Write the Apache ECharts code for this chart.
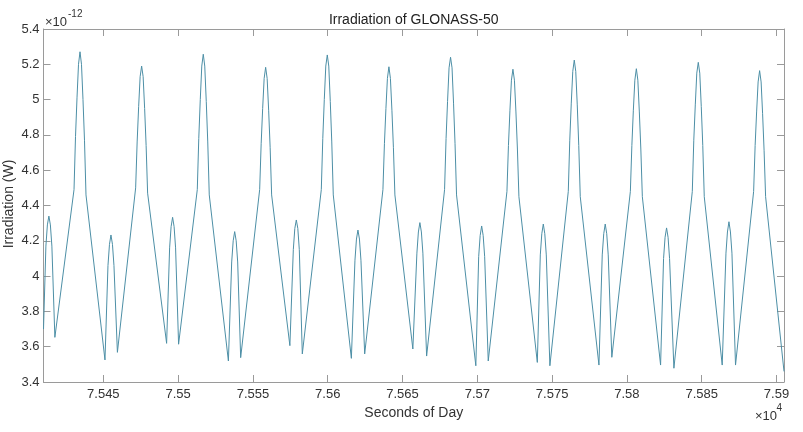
<!DOCTYPE html>
<html>
<head>
<meta charset="utf-8">
<script src="https://cdn.jsdelivr.net/npm/echarts@6.0.0/dist/echarts.min.js"></script>
<style>
html,body{margin:0;padding:0;background:#fff;}
#chart{width:803px;height:432px;}
</style>
</head>
<body>
<div id="chart"></div>
<script>
// Time in seconds of day
const seconds = [
  75410.0,
  75411.6, 75412.6, 75413.6, 75414.6, 75415.6,
  75417.6,
  75430.4, 75431.4, 75432.4, 75433.4, 75434.4, 75435.4, 75436.4, 75437.4, 75438.4,
  75451.1,
  75453.1, 75454.1, 75455.1, 75456.1, 75457.1,
  75459.4,
  75471.6, 75472.6, 75473.6, 75474.6, 75475.6, 75476.6, 75477.6, 75478.6, 75479.6,
  75492.3,
  75494.3, 75495.3, 75496.3, 75497.3, 75498.3,
  75500.3,
  75512.8, 75513.8, 75514.8, 75515.8, 75516.8, 75517.8, 75518.8, 75519.8, 75520.8,
  75533.6,
  75535.8, 75536.8, 75537.8, 75538.8, 75539.8,
  75541.8,
  75554.5, 75555.5, 75556.5, 75557.5, 75558.5, 75559.5, 75560.5, 75561.5, 75562.5,
  75574.7,
  75577.0, 75578.0, 75579.0, 75580.0, 75581.0,
  75583.0,
  75595.7, 75596.7, 75597.7, 75598.7, 75599.7, 75600.7, 75601.7, 75602.7, 75603.7,
  75615.8,
  75618.2, 75619.2, 75620.2, 75621.2, 75622.2,
  75624.7,
  75636.9, 75637.9, 75638.9, 75639.9, 75640.9, 75641.9, 75642.9, 75643.9, 75644.9,
  75656.9,
  75659.6, 75660.6, 75661.6, 75662.6, 75663.6,
  75666.1,
  75678.1, 75679.1, 75680.1, 75681.1, 75682.1, 75683.1, 75684.1, 75685.1, 75686.1,
  75699.0,
  75700.9, 75701.9, 75702.9, 75703.9, 75704.9,
  75707.3,
  75719.8, 75720.8, 75721.8, 75722.8, 75723.8, 75724.8, 75725.8, 75726.8, 75727.8,
  75740.1,
  75742.1, 75743.1, 75744.1, 75745.1, 75746.1,
  75748.5,
  75760.8, 75761.8, 75762.8, 75763.8, 75764.8, 75765.8, 75766.8, 75767.8, 75768.8,
  75781.3,
  75783.5, 75784.5, 75785.5, 75786.5, 75787.5,
  75789.9,
  75802.3, 75803.3, 75804.3, 75805.3, 75806.3, 75807.3, 75808.3, 75809.3, 75810.3,
  75822.5,
  75824.5, 75825.5, 75826.5, 75827.5, 75828.5,
  75831.4,
  75843.7, 75844.7, 75845.7, 75846.7, 75847.7, 75848.7, 75849.7, 75850.7, 75851.7,
  75863.7,
  75866.2, 75867.2, 75868.2, 75869.2, 75870.2,
  75872.6,
  75884.7, 75885.7, 75886.7, 75887.7, 75888.7, 75889.7, 75890.7, 75891.7, 75892.7,
  75905.0
];

// Irradiation in units of 1e-12 W
const irradiation = [
  3.70,
  4.17, 4.29, 4.34, 4.29, 4.17,
  3.653,
  4.49, 4.79, 5.01, 5.20, 5.271, 5.20, 5.00, 4.77, 4.46,
  3.525,
  4.06, 4.18, 4.233, 4.18, 4.06,
  3.568,
  4.50, 4.76, 4.96, 5.13, 5.19, 5.13, 4.95, 4.74, 4.47,
  3.619,
  4.16, 4.28, 4.333, 4.28, 4.16,
  3.614,
  4.49, 4.78, 5.00, 5.19, 5.257, 5.19, 4.99, 4.76, 4.46,
  3.519,
  4.08, 4.20, 4.252, 4.20, 4.08,
  3.538,
  4.49, 4.75, 4.95, 5.12, 5.183, 5.12, 4.94, 4.73, 4.46,
  3.606,
  4.15, 4.27, 4.318, 4.27, 4.15,
  3.559,
  4.49, 4.78, 5.00, 5.19, 5.253, 5.19, 4.99, 4.76, 4.46,
  3.534,
  4.09, 4.21, 4.261, 4.21, 4.09,
  3.559,
  4.49, 4.75, 4.95, 5.12, 5.186, 5.12, 4.94, 4.73, 4.46,
  3.587,
  4.13, 4.25, 4.303, 4.25, 4.13,
  3.547,
  4.49, 4.78, 4.99, 5.18, 5.24, 5.18, 4.98, 4.75, 4.46,
  3.492,
  4.11, 4.23, 4.284, 4.23, 4.11,
  3.519,
  4.48, 4.74, 4.94, 5.11, 5.172, 5.11, 4.93, 4.72, 4.45,
  3.511,
  4.12, 4.24, 4.295, 4.24, 4.12,
  3.492,
  4.48, 4.77, 4.98, 5.16, 5.224, 5.16, 4.97, 4.74, 4.45,
  3.496,
  4.12, 4.24, 4.295, 4.24, 4.12,
  3.54,
  4.48, 4.74, 4.94, 5.11, 5.175, 5.11, 4.93, 4.72, 4.45,
  3.496,
  4.10, 4.22, 4.273, 4.22, 4.10,
  3.478,
  4.48, 4.77, 4.97, 5.15, 5.211, 5.15, 4.96, 4.74, 4.45,
  3.496,
  4.13, 4.25, 4.308, 4.25, 4.13,
  3.496,
  4.48, 4.74, 4.93, 5.10, 5.164, 5.10, 4.92, 4.71, 4.45,
  3.46
];

const xTicks = [75450, 75500, 75550, 75600, 75650, 75700, 75750, 75800, 75850, 75900];
const xTickLabels = ['7.545', '7.55', '7.555', '7.56', '7.565', '7.57', '7.575', '7.58', '7.585', '7.59'];
const yTicks = [3.4, 3.6, 3.8, 4.0, 4.2, 4.4, 4.6, 4.8, 5.0, 5.2, 5.4];
const yTickLabels = ['3.4', '3.6', '3.8', '4', '4.2', '4.4', '4.6', '4.8', '5', '5.2', '5.4'];

const titleText = 'Irradiation of GLONASS-50';
const xName = 'Seconds of Day';
const yName = 'Irradiation (W)';

const FONT = '"Liberation Sans", Arial, Helvetica, sans-serif';
const AXIS_COLOR = '#9a9a9a';
const TEXT_COLOR = '#333333';
const LINE_COLOR = '#4d8fa6';

function labelFor(ticks, labels, v) {
  let best = 0, bd = Infinity;
  ticks.forEach((t, i) => { const d = Math.abs(t - v); if (d < bd) { bd = d; best = i; } });
  return labels[best];
}

const chart = echarts.init(document.getElementById('chart'), null, { renderer: 'canvas' });

const commonAxisLine = { show: true, lineStyle: { color: AXIS_COLOR, width: 1 } };

const option = {
  backgroundColor: '#ffffff',
  animation: false,
  textStyle: { fontFamily: FONT },
  grid: { left: 43.5, right: 19, top: 29, bottom: 50, containLabel: false, outerBoundsMode: 'none' },
  xAxis: [
    {
      type: 'value', min: 75410, max: 75905, position: 'bottom',
      axisLine: commonAxisLine,
      axisTick: { show: true, inside: true, length: 7, customValues: xTicks, lineStyle: { color: AXIS_COLOR } },
      axisLabel: {
        show: true, customValues: xTicks, margin: 6, color: TEXT_COLOR, fontSize: 13, fontFamily: FONT,
        formatter: v => labelFor(xTicks, xTickLabels, v)
      },
      splitLine: { show: false },
      name: xName, nameLocation: 'middle', nameGap: 22,
      nameTextStyle: { color: TEXT_COLOR, fontSize: 14, fontFamily: FONT }
    },
    {
      type: 'value', min: 75410, max: 75905, position: 'top',
      axisLine: commonAxisLine,
      axisTick: { show: true, inside: true, length: 7, customValues: xTicks, lineStyle: { color: AXIS_COLOR } },
      axisLabel: { show: false },
      splitLine: { show: false }
    }
  ],
  yAxis: [
    {
      type: 'value', min: 3.4, max: 5.4, position: 'left',
      axisLine: commonAxisLine,
      axisTick: { show: true, inside: true, length: 7, customValues: yTicks, lineStyle: { color: AXIS_COLOR } },
      axisLabel: {
        show: true, customValues: yTicks, margin: 4, color: TEXT_COLOR, fontSize: 13, fontFamily: FONT,
        formatter: v => labelFor(yTicks, yTickLabels, v)
      },
      splitLine: { show: false }
    },
    {
      type: 'value', min: 3.4, max: 5.4, position: 'right',
      axisLine: commonAxisLine,
      axisTick: { show: true, inside: true, length: 7, customValues: yTicks, lineStyle: { color: AXIS_COLOR } },
      axisLabel: { show: false },
      splitLine: { show: false }
    }
  ],
  graphic: [
    { type: 'text', x: 413.7, y: 20, style: { text: titleText, fill: '#222222', font: '14px ' + FONT, textAlign: 'center', textVerticalAlign: 'middle', align: 'center', verticalAlign: 'middle' } },
    { type: 'text', x: 9, y: 204, rotation: Math.PI / 2, style: { text: yName, fill: TEXT_COLOR, font: '14px ' + FONT, textAlign: 'center', textVerticalAlign: 'middle', align: 'center', verticalAlign: 'middle' } },
    { type: 'text', x: 45, y: 22.5, style: { text: '\u00d710', fill: TEXT_COLOR, font: '13px ' + FONT, textAlign: 'left', textVerticalAlign: 'middle', align: 'left', verticalAlign: 'middle' } },
    { type: 'text', x: 68, y: 14.5, style: { text: '-12', fill: TEXT_COLOR, font: '10px ' + FONT, textAlign: 'left', textVerticalAlign: 'middle', align: 'left', verticalAlign: 'middle' } },
    { type: 'text', x: 755, y: 416, style: { text: '\u00d710', fill: TEXT_COLOR, font: '13px ' + FONT, textAlign: 'left', textVerticalAlign: 'middle', align: 'left', verticalAlign: 'middle' } },
    { type: 'text', x: 776.5, y: 408.5, style: { text: '4', fill: TEXT_COLOR, font: '10px ' + FONT, textAlign: 'left', textVerticalAlign: 'middle', align: 'left', verticalAlign: 'middle' } }
  ],
  series: [
    {
      type: 'line',
      xAxisIndex: 0, yAxisIndex: 0,
      data: seconds.map((s, i) => [s, irradiation[i]]),
      showSymbol: false,
      symbol: 'none',
      smooth: false,
      clip: true,
      lineStyle: { color: LINE_COLOR, width: 1 }
    }
  ]
};

chart.setOption(option);
</script>
</body>
</html>
